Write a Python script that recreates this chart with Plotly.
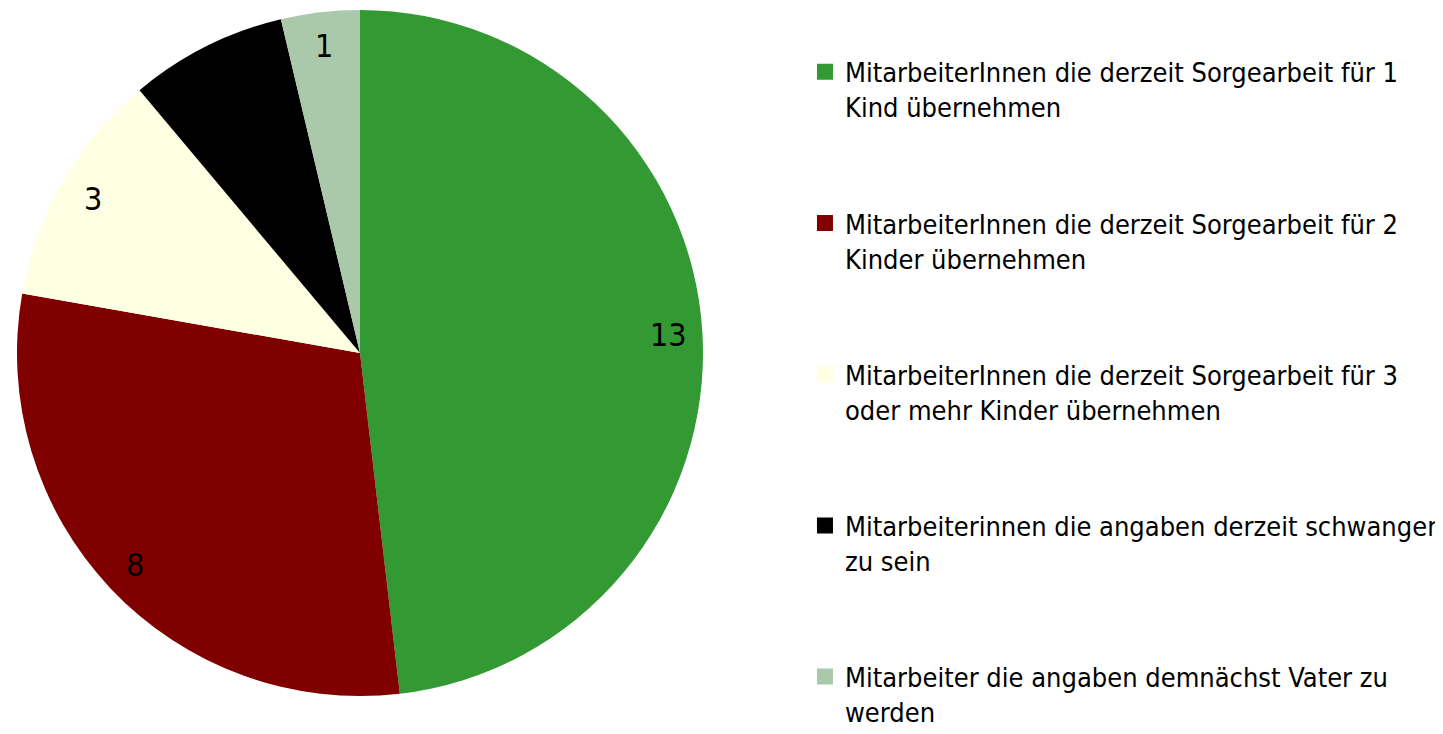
import math
import plotly.graph_objects as go

labels = [
    "MitarbeiterInnen die derzeit Sorgearbeit für 1<br>Kind übernehmen",
    "MitarbeiterInnen die derzeit Sorgearbeit für 2<br>Kinder übernehmen",
    "MitarbeiterInnen die derzeit Sorgearbeit für 3<br>oder mehr Kinder übernehmen",
    "Mitarbeiterinnen die angaben derzeit schwanger<br>zu sein",
    "Mitarbeiter die angaben demnächst Vater zu<br>werden",
]
values = [13, 8, 3, 2, 1]
colors = ["#339933", "#800000", "#ffffe3", "#000000", "#aac8aa"]

W, H = 1443, 734
MT, MB = 2, 46
DOM_X = [0, 704 / W]
FONT = "DejaVu Sans Condensed, Liberation Sans Narrow, Arial Narrow, sans-serif"

fig = go.Figure()
fig.add_trace(go.Pie(
    labels=labels, values=values, sort=False, direction="clockwise", rotation=0,
    marker=dict(colors=colors, line=dict(width=0)),
    textinfo="none", hoverinfo="label+value", showlegend=False,
    domain=dict(x=DOM_X, y=[0, 1]),
))

# legend entries
for i, (lab, col) in enumerate(zip(labels, colors)):
    fig.add_trace(go.Scatter(
        x=[None], y=[None], mode="markers", name=lab, legendgroup=f"g{i}",
        marker=dict(symbol="square", size=20, color=col),
    ))

# value labels placed at slice mid-angles
plot_h = H - MT - MB
dom_w = (DOM_X[1] - DOM_X[0]) * W
r = min(dom_w, plot_h) / 2
cx = (DOM_X[0] + DOM_X[1]) / 2
total = sum(values)
cum = 0
for v in values:
    mid = (cum + v / 2) / total * 2 * math.pi
    cum += v
    fig.add_annotation(
        x=cx + 0.9 * r * math.sin(mid) / W,
        y=0.5 + 0.9 * r * math.cos(mid) / plot_h,
        xref="paper", yref="paper", xanchor="center", yanchor="middle",
        text=str(v), showarrow=False,
        font=dict(size=32, color="#000000", family=FONT),
    )

fig.update_layout(
    width=W, height=H,
    margin=dict(l=0, r=0, t=MT, b=MB),
    paper_bgcolor="white", plot_bgcolor="white",
    xaxis=dict(visible=False), yaxis=dict(visible=False),
    showlegend=True,
    legend=dict(
        x=0.5523, y=0.945, xanchor="left", yanchor="top", valign="top",
        font=dict(size=27, color="#000000", family=FONT),
        tracegroupgap=78, bgcolor="rgba(0,0,0,0)",
    ),
)
fig.write_html("out.html")
